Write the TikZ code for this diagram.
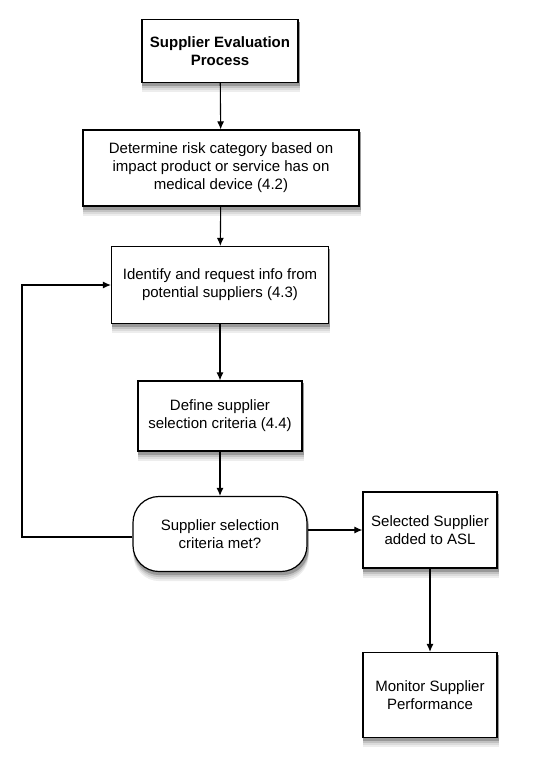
\documentclass[tikz,border=0pt]{standalone}
\usepackage{fontspec}
\setmainfont{Liberation Sans}
\usepackage{tikz}
\usetikzlibrary{arrows.meta,backgrounds}

\begin{document}
\begin{tikzpicture}[x=1pt,y=-1pt]
\tikzstyle{box} = [draw,line width=1.2pt,fill=white,align=center,font=\fontsize{15}{18}\selectfont,inner sep=2];
\tikzstyle{decision} = [box,rounded corners=26pt];
\tikzstyle{arrow} = [line width=1.1pt,-{Latex[length=8pt,width=7pt]}];
\useasboundingbox (0,0) rectangle (542,765);
\node [box,minimum width=156,minimum height=63,font=\fontsize{15}{18}\selectfont\bfseries] (start) at (220,51) {Supplier Evaluation\\Process};
\node [box,minimum width=276,minimum height=76] (risk) at (221,168) {Determine risk category based on\\impact product or service has on\\medical device (4.2)};
\node [box,minimum width=217,minimum height=77] (identify) at (220,285) {Identify and request info from\\potential suppliers (4.3)};
\node [box,minimum width=164,minimum height=70] (define) at (220,416) {Define supplier\\selection criteria (4.4)};
\node [decision,minimum width=174,minimum height=75] (met) at (220,534) {Supplier selection\\criteria met?};
\node [box,minimum width=134,minimum height=76] (asl) at (430,530) {Selected Supplier\\added to ASL};
\node [box,minimum width=134,minimum height=85] (monitor) at (430,695) {Monitor Supplier\\Performance};
% soft shadows
\begin{scope}[on background layer]
\foreach \d/\c in {9/7,7/14,5/24,3/40} {
  \foreach \n in {start,risk,identify,define,asl,monitor}
    \fill [black!\c] ([xshift=1pt,yshift=-\d pt]\n.south west) rectangle ([xshift=1pt,yshift=-\d pt]\n.north east);
  \fill [black!\c,rounded corners=26pt] ([xshift=1pt,yshift=-\d pt]met.south west) rectangle ([xshift=1pt,yshift=-\d pt]met.north east);
}
\end{scope}
\coordinate (loop) at (22,537);
\draw [arrow] (start) -- (risk);
\draw [arrow] (risk) -- (identify);
\draw [arrow] (identify) -- (define);
\draw [arrow] (define) -- (met);
\draw [arrow] (met.east |- asl.west) -- (asl.west);
\draw [arrow] (asl) -- (monitor);
\draw [arrow] (met.west |- loop) -- (loop) |- (identify.west);
\end{tikzpicture}
\end{document}
